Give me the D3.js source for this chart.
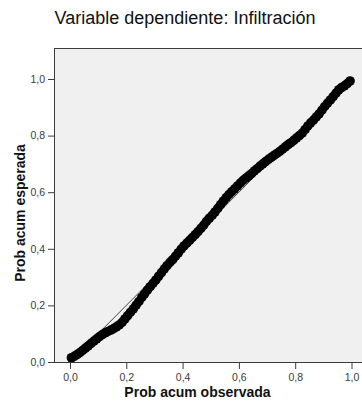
<!DOCTYPE html>
<html>
<head>
<meta charset="utf-8">
<script src="https://cdn.jsdelivr.net/npm/d3@7/dist/d3.min.js"></script>
<style>
  html, body { margin: 0; padding: 0; background: #ffffff; }
  svg { display: block; }
</style>
</head>
<body>
<svg id="chart" width="362" height="403"></svg>
<script>
// Normal P-P plot of the regression residuals
const title = "Variable dependiente: Infiltración";
const xTitle = "Prob acum observada";
const yTitle = "Prob acum esperada";
const tickValues = [0, 0.2, 0.4, 0.6, 0.8, 1.0];
const tickLabels = ["0,0", "0,2", "0,4", "0,6", "0,8", "1,0"];

// Observed cumulative probability of each case
const observed = [
  0.005, 0.015, 0.025, 0.035, 0.045, 0.055, 0.065, 0.075, 0.085, 0.095,
  0.105, 0.115, 0.125, 0.135, 0.145, 0.155, 0.165, 0.175, 0.185, 0.195,
  0.205, 0.215, 0.225, 0.235, 0.245, 0.255, 0.265, 0.275, 0.285, 0.295,
  0.305, 0.315, 0.325, 0.335, 0.345, 0.355, 0.365, 0.375, 0.385, 0.395,
  0.405, 0.415, 0.425, 0.435, 0.445, 0.455, 0.465, 0.475, 0.485, 0.495,
  0.505, 0.515, 0.525, 0.535, 0.545, 0.555, 0.565, 0.575, 0.585, 0.595,
  0.605, 0.615, 0.625, 0.635, 0.645, 0.655, 0.665, 0.675, 0.685, 0.695,
  0.705, 0.715, 0.725, 0.735, 0.745, 0.755, 0.765, 0.775, 0.785, 0.795,
  0.805, 0.815, 0.825, 0.835, 0.845, 0.855, 0.865, 0.875, 0.885, 0.895,
  0.905, 0.915, 0.925, 0.935, 0.945, 0.955, 0.965, 0.975, 0.985, 0.995
];
// Expected cumulative probability under normality
const expected = [
  0.015, 0.020, 0.026, 0.033, 0.041, 0.049, 0.057, 0.066, 0.074, 0.082,
  0.090, 0.097, 0.103, 0.108, 0.113, 0.118, 0.124, 0.131, 0.140, 0.152,
  0.164, 0.176, 0.188, 0.201, 0.214, 0.228, 0.241, 0.254, 0.266, 0.278,
  0.290, 0.303, 0.316, 0.329, 0.341, 0.352, 0.362, 0.374, 0.386, 0.399,
  0.410, 0.420, 0.430, 0.440, 0.450, 0.461, 0.472, 0.484, 0.497, 0.508,
  0.518, 0.530, 0.543, 0.556, 0.569, 0.581, 0.592, 0.602, 0.612, 0.622,
  0.632, 0.642, 0.650, 0.658, 0.666, 0.675, 0.683, 0.692, 0.700, 0.708,
  0.716, 0.723, 0.730, 0.737, 0.744, 0.752, 0.760, 0.768, 0.775, 0.783,
  0.792, 0.800, 0.809, 0.821, 0.834, 0.845, 0.855, 0.866, 0.877, 0.890,
  0.903, 0.915, 0.926, 0.938, 0.950, 0.962, 0.970, 0.976, 0.984, 0.993
];
const diagonal = [0, 1];

const svg = d3.select("#chart");
const box = { left: 55, right: 362, top: 48, bottom: 362 };

const x = d3.scaleLinear().domain([0, 1]).range([70, 351.5]);
const y = d3.scaleLinear().domain([0, 1]).range([362, 79]);

// Plot area
svg.append("rect")
  .attr("x", box.left).attr("y", box.top)
  .attr("width", box.right - box.left).attr("height", box.bottom - box.top)
  .attr("fill", "#f0f0f0");
svg.append("line")
  .attr("x1", box.left).attr("x2", box.right)
  .attr("y1", box.top + 0.5).attr("y2", box.top + 0.5)
  .attr("stroke", "#3c3c3c").attr("stroke-width", 1);

// Reference diagonal
svg.append("line")
  .attr("x1", x(diagonal[0])).attr("y1", y(diagonal[0]))
  .attr("x2", x(diagonal[1])).attr("y2", y(diagonal[1]))
  .attr("stroke", "#444").attr("stroke-width", 1);

// Points
svg.append("g").selectAll("circle")
  .data(observed.map((o, i) => [o, expected[i]]))
  .join("circle")
  .attr("cx", d => x(d[0]))
  .attr("cy", d => y(d[1]))
  .attr("r", 4.8)
  .attr("fill", "#000");

// Axes
const fmt = d => tickLabels[tickValues.indexOf(d)];
const xAxis = svg.append("g")
  .attr("transform", `translate(0,${box.bottom})`)
  .call(d3.axisBottom(x).tickValues(tickValues).tickFormat(fmt).tickSize(7).tickSizeOuter(0));
const yAxis = svg.append("g")
  .attr("transform", `translate(${box.left},0)`)
  .call(d3.axisLeft(y).tickValues(tickValues).tickFormat(fmt).tickSize(7).tickSizeOuter(0));

// Extend axis lines across the full plot box
xAxis.select(".domain").attr("d", `M${box.left},0.5H${box.right}`);
yAxis.select(".domain").attr("d", `M-0.5,${box.top}V${box.bottom}`);

[xAxis, yAxis].forEach(g => {
  g.select(".domain").attr("stroke", "#3c3c3c");
  g.selectAll(".tick line").attr("stroke", "#3c3c3c");
  g.selectAll(".tick text")
    .attr("fill", "#3a3a3a")
    .style("font-family", "Liberation Sans, Arial, sans-serif")
    .style("font-size", "10.5px");
});
xAxis.selectAll(".tick text").attr("dy", "0.95em").attr("y", 9);
yAxis.selectAll(".tick text").attr("x", -10);

// Titles
svg.append("text")
  .attr("x", 185).attr("y", 24)
  .attr("text-anchor", "middle")
  .style("font-family", "Liberation Sans, Arial, sans-serif")
  .style("font-size", "18px")
  .attr("fill", "#111")
  .text(title);

svg.append("text")
  .attr("x", 197.5).attr("y", 397)
  .attr("text-anchor", "middle")
  .style("font-family", "Liberation Sans, Arial, sans-serif")
  .style("font-size", "14px")
  .style("font-weight", "bold")
  .attr("fill", "#111")
  .text(xTitle);

svg.append("text")
  .attr("transform", "translate(24.5,213) rotate(-90)")
  .attr("text-anchor", "middle")
  .style("font-family", "Liberation Sans, Arial, sans-serif")
  .style("font-size", "14px")
  .style("font-weight", "bold")
  .attr("fill", "#111")
  .text(yTitle);
</script>
</body>
</html>
